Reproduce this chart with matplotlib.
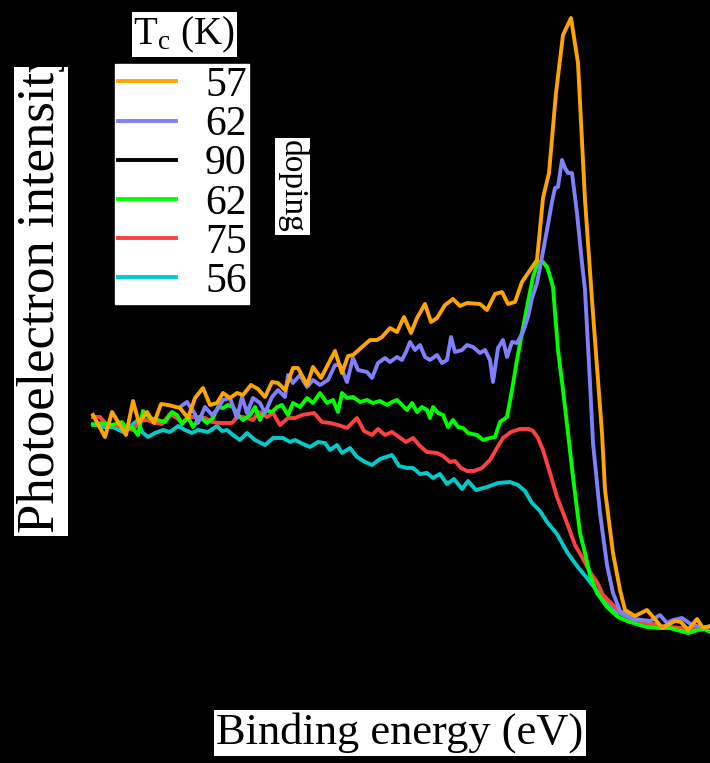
import numpy as np
import matplotlib
matplotlib.use("Agg")
import matplotlib.pyplot as plt
from matplotlib.transforms import Bbox, TransformedBbox

plt.rcParams["font.family"] = ["Liberation Serif", "DejaVu Serif"]
plt.rcParams["mathtext.fontset"] = "stix"

# binding energy (meV) and photoelectron intensity (arb. units)
e_57 = [517, 505, 498, 484, 477, 471, 463, 456, 449, 442, 430, 422, 415, 407, 400, 393, 387, 380,
        373, 367, 359, 352, 345, 338, 332, 325, 317, 312, 303, 297, 289, 275, 268, 262, 257, 248,
        240, 233, 228, 220, 213, 206, 199, 193, 185, 179, 173, 165, 157, 150, 143, 130, 123, 115,
        108, 102, 95, 88, 73, 67, 61, 54, 47, 39, 32, 25, 18, 13, 8, 5, -3, -10, -15, -25, -37,
        -44, -52, -65, -71, -78, -87, -93, -100]
i_57 = [215, 193, 218, 195, 229, 207, 218, 207, 226, 225, 222, 212, 232, 242, 225, 227, 237, 232,
        237, 235, 245, 241, 233, 248, 247, 240, 262, 262, 245, 263, 252, 279, 257, 274, 275, 283,
        290, 290, 293, 302, 298, 313, 297, 312, 326, 308, 312, 325, 331, 324, 327, 326, 320, 336,
        338, 326, 328, 348, 370, 432, 457, 537, 595, 612, 567, 430, 330, 263, 197, 140, 77, 40,
        20, 14, 20, 12, 2, 9, 8, 0, 11, 2, 4]

e_62a = [430, 423, 415, 412, 405, 398, 393, 387, 380, 373, 368, 363, 357, 350, 345, 338, 332, 325,
         322, 317, 310, 303, 297, 290, 282, 275, 270, 263, 257, 252, 243, 238, 232, 225, 220, 213,
         208, 204, 200, 195, 190, 185, 180, 173, 168, 163, 159, 155, 148, 143, 137, 130, 125, 120,
         117, 112, 107, 103, 98, 93, 87, 82, 78, 73, 68, 63, 58, 55, 52, 48, 45, 42, 38, 33, 28,
         25, 20, 17, 10, 3, -3, -10, -23, -33, -40, -50, -57, -63, -72, -82, -92, -100]
i_62a = [223, 228, 216, 207, 223, 215, 220, 230, 232, 212, 233, 217, 232, 227, 217, 233, 240, 233,
         255, 247, 255, 243, 250, 245, 250, 265, 265, 248, 272, 260, 258, 252, 267, 272, 268, 273,
         270, 278, 288, 280, 285, 273, 270, 275, 267, 270, 293, 278, 280, 285, 283, 277, 280, 270,
         248, 282, 290, 273, 288, 287, 298, 313, 332, 347, 373, 400, 428, 442, 443, 470, 462, 457,
         457, 417, 367, 340, 247, 187, 117, 65, 37, 19, 11, 10, 9, 15, 7, 10, 12, 5, 3, 3]

e_90 = [517, 450, 400, 350, 300, 250, 200, 150, 110, 90, 75, 65, 55, 45, 35, 25, 15, 5, -10, -30,
        -60, -100]
i_90 = [210, 212, 215, 220, 228, 235, 240, 245, 250, 290, 350, 390, 400, 360, 260, 150, 80, 40,
        15, 5, 2, 0]

e_62b = [517, 508, 498, 488, 483, 478, 472, 467, 460, 453, 445, 438, 433, 428, 422, 417, 410, 403,
         397, 392, 387, 382, 377, 372, 367, 360, 355, 350, 345, 338, 333, 328, 322, 317, 310, 303,
         297, 290, 283, 277, 272, 268, 263, 257, 250, 243, 237, 230, 223, 218, 213, 208, 203, 198,
         193, 188, 183, 180, 177, 172, 167, 162, 157, 152, 147, 142, 133, 127, 120, 115, 110, 103,
         98, 93, 88, 83, 77, 72, 67, 63, 61, 57, 52, 47, 42, 37, 30, 25, 20, 13, 3, -8, -17, -30,
         -37, -50, -60, -67, -78, -88, -94, -100]
i_62b = [205, 207, 205, 208, 200, 203, 195, 219, 212, 210, 208, 218, 215, 206, 213, 203, 213, 207,
         212, 223, 222, 225, 223, 215, 210, 215, 223, 210, 220, 218, 223, 225, 215, 227, 223, 232,
         227, 237, 227, 230, 218, 237, 232, 233, 228, 230, 227, 229, 225, 228, 230, 225, 220, 227,
         218, 223, 220, 212, 223, 217, 215, 203, 210, 203, 202, 197, 195, 190, 192, 193, 208, 213,
         240, 270, 297, 323, 353, 368, 368, 363, 357, 343, 280, 240, 197, 153, 97, 77, 55, 37, 23,
         13, 9, 5, 3, 2, 2, 0, -3, 0, 1, -2]

e_75 = [517, 510, 503, 493, 487, 477, 470, 463, 455, 448, 440, 433, 428, 420, 413, 405, 398, 390,
        378, 372, 363, 357, 351, 343, 337, 330, 322, 315, 308, 296, 288, 280, 272, 263, 253, 246,
        238, 232, 225, 218, 211, 204, 197, 190, 183, 173, 167, 160, 155, 149, 143, 136, 128, 120,
        113, 107, 99, 90, 81, 77, 72, 67, 60, 53, 43, 35, 28, 20, 13, 7, 0, -10, -23, -37, -57,
        -70, -85]
i_75 = [213, 213, 205, 205, 203, 200, 209, 210, 207, 206, 216, 212, 207, 213, 213, 212, 208, 207,
        207, 214, 212, 210, 218, 213, 217, 205, 212, 212, 215, 217, 208, 207, 205, 202, 212, 199,
        195, 201, 195, 198, 193, 188, 192, 184, 178, 177, 174, 168, 169, 162, 159, 159, 162, 170,
        182, 192, 198, 201, 201, 199, 192, 180, 157, 133, 107, 85, 73, 58, 48, 35, 28, 18, 11, 7,
        3, 2, 1]

e_56 = [517, 507, 497, 487, 478, 472, 468, 462, 455, 447, 440, 432, 425, 418, 412, 402, 393, 388,
        383, 377, 370, 363, 355, 345, 337, 327, 320, 315, 307, 300, 292, 285, 280, 273, 268, 260,
        253, 245, 238, 230, 218, 211, 203, 197, 190, 183, 177, 170, 163, 156, 148, 142, 134, 123,
        112, 100, 92, 85, 78, 70, 63, 53, 43, 33, 23, 13, 3, -7, -20, -37, -57, -80]
i_56 = [206, 203, 203, 198, 205, 210, 198, 193, 197, 200, 198, 204, 200, 197, 200, 198, 204, 199,
        200, 195, 190, 197, 190, 185, 192, 192, 188, 190, 186, 183, 188, 187, 180, 185, 177, 182,
        173, 168, 165, 171, 175, 164, 162, 162, 156, 157, 152, 156, 146, 151, 141, 149, 140, 143,
        147, 148, 145, 139, 127, 119, 108, 96, 78, 64, 52, 39, 28, 18, 12, 7, 3, 1]

tc_labels = ["57", "62", "90", "62", "75", "56"]
energies = [e_57, e_62a, e_90, e_62b, e_75, e_56]
intensities = [i_57, i_62a, i_90, i_62b, i_75, i_56]
colors = ["#FFA500", "#8080FF", "#000000", "#00FF00", "#FF4040", "#00CCCC"]
zorders = [6, 5, 1, 4, 3, 2]

W, H = 710, 763
fig = plt.figure(figsize=(W / 100, H / 100), dpi=100, facecolor="black")
ax = fig.add_axes([0, 0, 1, 1])
ax.set_facecolor("black")

for e, i, lab, c, z in zip(energies, intensities, tc_labels, colors, zorders):
    ax.plot(np.array(e) / 1000, i, color=c, lw=2.8, label=lab, zorder=z)

ax.set_xlim(0.610, -0.100)
ax.set_ylim(-133, 630)
ax.axis("off")

ax.legend(loc="upper left", bbox_to_anchor=(115 / W, 1 - 64 / H), bbox_transform=fig.transFigure,
          borderaxespad=0, fontsize=30, handlelength=1.4, handletextpad=0.7, borderpad=0.06,
          labelspacing=0.017, fancybox=False, framealpha=1, facecolor="white", edgecolor="white")

box = dict(boxstyle="square,pad=0.05", fc="white", ec="none")
fig.text(184.5 / W, 1 - 34.5 / H, r"T$_\mathregular{c}$ (K)", fontsize=28,
         ha="center", va="center", bbox=box)
fig.text(292.5 / W, 1 - 186.5 / H, "doping", rotation=-90, fontsize=24,
         ha="center", va="center", bbox=box)
fig.text(400 / W, 1 - 744 / H, "Binding energy (eV)", fontsize=32,
         ha="center", va="baseline", bbox=box)

ylab = fig.text(41 / W, 1 - 533 / H, "Photoelectron intensity", rotation=90, fontsize=38,
                ha="center", va="bottom", bbox=box)
# the label is cut off at the top in the original
ylab.set_clip_box(TransformedBbox(Bbox.from_extents(0, 0, 1, 1 - 67 / H), fig.transFigure))

fig.savefig("out.png", dpi=100, facecolor="black")
